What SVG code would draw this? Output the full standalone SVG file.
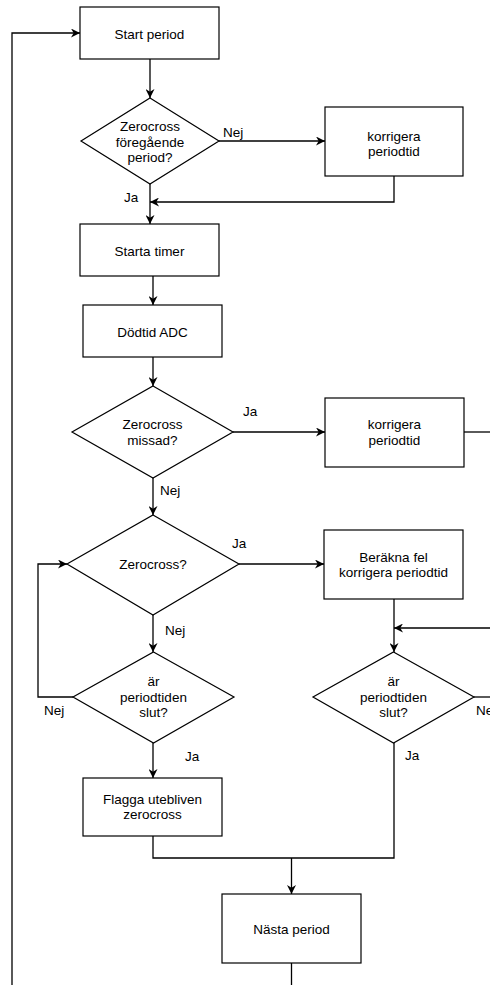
<svg xmlns="http://www.w3.org/2000/svg" width="490" height="985" viewBox="0 0 490 985">
<defs>
<style>
.n{fill:#fff;stroke:#000;stroke-width:1.2}
.t{font-family:"Liberation Sans",Arial,sans-serif;font-size:13.5px;fill:#000;text-anchor:middle}
.l{font-family:"Liberation Sans",Arial,sans-serif;font-size:13.5px;fill:#000}
.e{fill:none;stroke:#000;stroke-width:1.3}
.a{marker-end:url(#arr)}
</style>
<marker id="arr" viewBox="0 0 10 10" refX="10" refY="5" markerWidth="9" markerHeight="9" orient="auto" markerUnits="userSpaceOnUse">
<path d="M0,0 L10,5 L0,10 L3,5 z" fill="#000"/>
</marker>
</defs>
<rect width="490" height="985" fill="#fff"/>
<g id="connectors">
<path class="e a" d="M12,985 V33 H80"/>
<path class="e a" d="M150,59 V98"/>
<path class="e a" d="M219,141 H325"/>
<path class="e a" d="M394,176 V202 H150"/>
<path class="e a" d="M150,184 V224"/>
<path class="e a" d="M153,276 V305"/>
<path class="e a" d="M153,357 V386"/>
<path class="e a" d="M233,432 H325"/>
<path class="e" d="M464,432 H490"/>
<path class="e a" d="M153,478 V515"/>
<path class="e a" d="M239,564 H324"/>
<path class="e a" d="M153,615 V652"/>
<path class="e a" d="M73,697 H38 V564 H67"/>
<path class="e a" d="M153,743 V778"/>
<path class="e a" d="M394,599 V652"/>
<path class="e a" d="M490,628 H394"/>
<path class="e" d="M474,697 H490"/>
<path class="e" d="M153,836 V858 H394 V743"/>
<path class="e a" d="M291.5,858 V894"/>
<path class="e" d="M291.5,963 V985"/>
<text class="l" x="223" y="136.5">Nej</text>
<text class="l" x="124" y="201.5">Ja</text>
<text class="l" x="243" y="415.5">Ja</text>
<text class="l" x="160" y="494.5">Nej</text>
<text class="l" x="232" y="547.5">Ja</text>
<text class="l" x="165" y="634.5">Nej</text>
<text class="l" x="44" y="714.5">Nej</text>
<text class="l" x="185" y="760.5">Ja</text>
<text class="l" x="476" y="714.5">Nej</text>
<text class="l" x="405" y="759.5">Ja</text>
</g>
<g id="start">
<rect class="n" x="80" y="7" width="139" height="52"/>
<text class="t" x="149.5" y="38.5">Start period</text>
</g>
<g id="d1">
<polygon class="n" points="150,98 219,141 150,184 81,141"/>
<text class="t" x="150" y="131">Zerocross</text>
<text class="t" x="150" y="146.5">föregående</text>
<text class="t" x="150" y="162">period?</text>
</g>
<g id="korr1">
<rect class="n" x="325" y="107" width="138" height="69"/>
<text class="t" x="394" y="140.5">korrigera</text>
<text class="t" x="394" y="156">periodtid</text>
</g>
<g id="timer">
<rect class="n" x="80" y="224" width="139" height="52"/>
<text class="t" x="149.5" y="255.5">Starta timer</text>
</g>
<g id="dodtid">
<rect class="n" x="83" y="305" width="139" height="52"/>
<text class="t" x="152.5" y="336.5">Dödtid ADC</text>
</g>
<g id="d2">
<polygon class="n" points="153,386 233,432 153,478 72,432"/>
<text class="t" x="152.5" y="429">Zerocross</text>
<text class="t" x="152.5" y="444.5">missad?</text>
</g>
<g id="korr2">
<rect class="n" x="325" y="398" width="139" height="69"/>
<text class="t" x="394.5" y="429">korrigera</text>
<text class="t" x="394.5" y="444.5">periodtid</text>
</g>
<g id="d3">
<polygon class="n" points="153,515 239,564 153,615 67,564"/>
<text class="t" x="153" y="568.5">Zerocross?</text>
</g>
<g id="berakna">
<rect class="n" x="324" y="530" width="139" height="69"/>
<text class="t" x="393.5" y="561.5">Beräkna fel</text>
<text class="t" x="393.5" y="577">korrigera periodtid</text>
</g>
<g id="d5">
<polygon class="n" points="153.5,652 234,697 153.5,743 73,697"/>
<text class="t" x="153.5" y="686">är</text>
<text class="t" x="153.5" y="701.5">periodtiden</text>
<text class="t" x="153.5" y="717">slut?</text>
</g>
<g id="d4">
<polygon class="n" points="393.5,652 474,697 393.5,743 313,697"/>
<text class="t" x="393.5" y="686">är</text>
<text class="t" x="393.5" y="701.5">periodtiden</text>
<text class="t" x="393.5" y="717">slut?</text>
</g>
<g id="flagga">
<rect class="n" x="83" y="778" width="139" height="58"/>
<text class="t" x="152.5" y="803.5">Flagga utebliven</text>
<text class="t" x="152.5" y="819">zerocross</text>
</g>
<g id="nasta">
<rect class="n" x="222" y="894" width="139" height="69"/>
<text class="t" x="291.5" y="933.5">Nästa period</text>
</g>
</svg>
